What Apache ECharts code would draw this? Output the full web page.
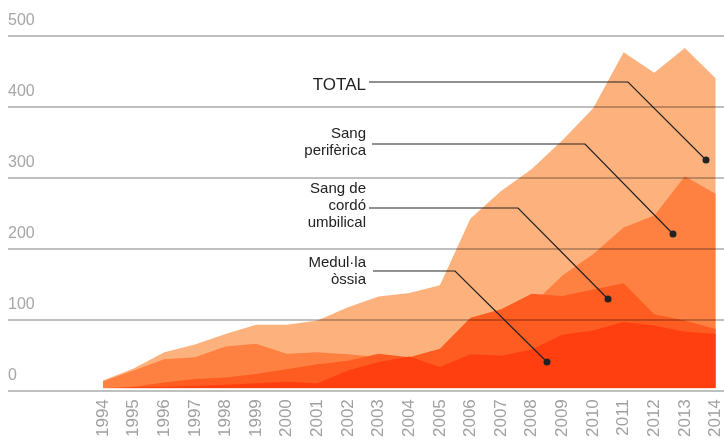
<!DOCTYPE html>
<html><head><meta charset="utf-8">
<script src="https://cdn.jsdelivr.net/npm/echarts@6/dist/echarts.min.js"></script>
<style>html,body{margin:0;padding:0;background:#fff}#c{width:724px;height:440px}</style>
</head><body><div id="c"></div>
<script>
const years = ['1994','1995','1996','1997','1998','1999','2000','2001','2002','2003','2004','2005','2006','2007','2008','2009','2010','2011','2012','2013','2014'];
const total      = [11, 28, 51, 62, 77, 90, 90, 96, 115, 130, 135, 146, 241, 280, 311, 352, 397, 477, 448, 483, 440];
const periferica = [10, 25, 41, 44, 59, 63, 49, 51, 48, 44, 42, 45, 85, 108, 118, 160, 190, 228, 245, 301, 276];
const cordo      = [0, 2, 8, 13, 15, 20, 27, 34, 39, 49, 44, 56, 100, 112, 134, 131, 140, 149, 105, 96, 84];
const medulla    = [0, 1, 2, 3, 5, 7, 9, 7, 25, 37, 45, 30, 48, 46, 55, 76, 82, 94, 89, 80, 77];
const yMin = 0, yMax = 500, yStep = 100;

const FONT = '"Liberation Sans", Arial, sans-serif';
const chart = echarts.init(document.getElementById('c'), null, {renderer: 'canvas'});

function area(name, data, color) {
  return {
    name, type: 'line', data, xAxisIndex: 1, yAxisIndex: 1,
    symbol: 'none', silent: true,
    lineStyle: {width: 0},
    areaStyle: {color, opacity: 1}
  };
}

function annotation(lines, fontSize, textY, path) {
  const pts = path;
  const dot = pts[pts.length - 1];
  return [
    {type: 'text', z: 20, style: {x: 366, y: textY, text: lines, align: 'right', verticalAlign: 'middle',
      font: fontSize + 'px ' + FONT, fill: '#222', lineHeight: 17}},
    {type: 'polyline', z: 20, shape: {points: pts}, style: {stroke: '#222', lineWidth: 1.2, fill: null}},
    {type: 'circle', z: 21, shape: {cx: dot[0], cy: dot[1], r: 3.5}, style: {fill: '#222'}}
  ];
}

const option = {
  animation: false,
  backgroundColor: '#fff',
  grid: [
    {left: 8, right: 0, top: 36, bottom: 49},
    {left: 103, right: 6, top: 36, bottom: 49}
  ],
  xAxis: [
    {gridIndex: 0, type: 'value', min: 0, max: 1, show: false},
    {gridIndex: 1, type: 'category', data: years, boundaryGap: false,
      axisLine: {show: false}, axisTick: {show: false}, splitLine: {show: false},
      axisLabel: {rotate: 90, color: '#a0a0a0', fontSize: 17, margin: 11, fontFamily: FONT, interval: 0}}
  ],
  yAxis: [
    {gridIndex: 0, type: 'value', min: yMin, max: yMax, interval: yStep, z: 5,
      axisLine: {show: false}, axisTick: {show: false},
      splitLine: {show: true, lineStyle: {color: 'rgba(0,0,0,0.33)', width: 1.6}},
      axisLabel: {inside: true, verticalAlign: 'bottom', margin: 0, padding: [0, 0, 7, 0],
        color: '#a6a6a6', fontSize: 16, fontFamily: FONT}},
    {gridIndex: 1, type: 'value', min: yMin, max: yMax, interval: yStep, show: false, splitLine: {show: false}}
  ],
  series: [
    area('TOTAL', total, '#fdb27e'),
    area('Sang perifèrica', periferica, '#ff8142'),
    area('Sang de cordó umbilical', cordo, '#ff5c22'),
    area('Medul·la òssia', medulla, '#ff3f10')
  ],
  graphic: [].concat(
    annotation('TOTAL', 17, 85, [[369, 82], [628, 82], [706, 160]]),
    annotation('Sang\nperifèrica', 15, 142, [[372, 144], [585, 144], [673, 234]]),
    annotation('Sang de\ncordó\numbilical', 15, 206, [[369, 208], [518, 208], [608, 299]]),
    annotation('Medul·la\nòssia', 15, 271, [[373, 271], [455, 271], [547, 362]])
  )
};
chart.setOption(option);
</script>
</body></html>
